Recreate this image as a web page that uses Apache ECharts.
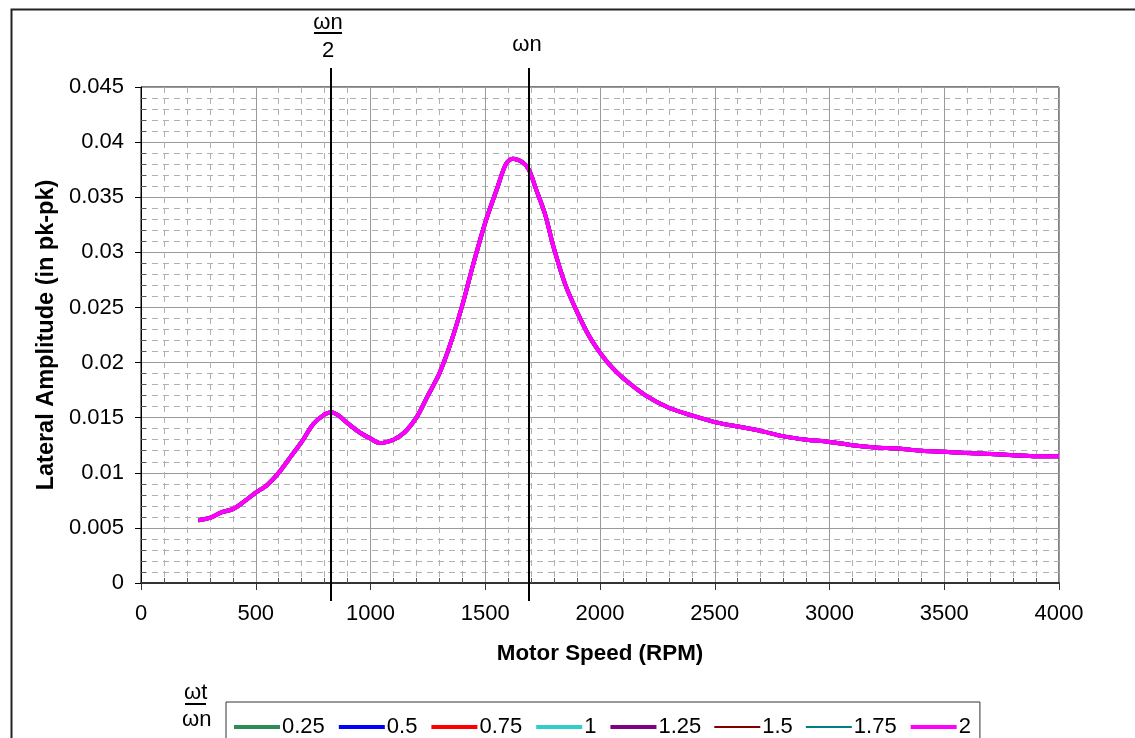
<!DOCTYPE html>
<html>
<head>
<meta charset="utf-8">
<script src="https://cdn.jsdelivr.net/npm/echarts@6/dist/echarts.min.js"></script>
<style>
html,body{margin:0;padding:0;background:#fff;}
#chart{width:1135px;height:738px;}
</style>
</head>
<body>
<div id="chart"></div>
<script>
// ---- data ----
const rpm = [250, 300, 350, 400, 450, 500, 550, 600, 650, 700, 750, 800, 830, 860, 900, 950, 1000, 1040, 1100, 1150, 1200, 1250, 1300, 1350, 1400, 1450, 1500, 1550, 1590, 1620, 1660, 1690, 1720, 1760, 1800, 1850, 1900, 1950, 2000, 2050, 2100, 2200, 2300, 2400, 2500, 2600, 2700, 2800, 2900, 3000, 3100, 3200, 3300, 3400, 3500, 3600, 3700, 3800, 3900, 4000];
const amplitude = [0.0057, 0.0059, 0.0064, 0.0067, 0.0074, 0.0082, 0.0089, 0.0100, 0.0114, 0.0128, 0.0144, 0.0153, 0.0155, 0.0152, 0.0145, 0.0137, 0.0131, 0.0127, 0.0130, 0.0137, 0.0150, 0.0170, 0.0190, 0.0218, 0.0252, 0.0291, 0.0327, 0.0357, 0.0380, 0.0385, 0.0382, 0.0375, 0.0358, 0.0335, 0.0303, 0.0270, 0.0246, 0.0225, 0.0209, 0.0196, 0.0186, 0.0170, 0.0159, 0.0152, 0.0146, 0.0142, 0.0138, 0.0133, 0.0130, 0.0128, 0.0125, 0.0123, 0.0122, 0.0120, 0.0119, 0.0118, 0.0117, 0.0116, 0.0115, 0.0115];
const ratios = ['0.25', '0.5', '0.75', '1', '1.25', '1.5', '1.75', '2'];
const markerRpm = [828, 1692];
const markerLabels = ['ωn/2', 'ωn'];
const xTicks = [0, 4000, 500];
const yTicks = [0, 0.045, 0.005];

// ---- styles ----
const colors = ['#2e8b57', '#0000ff', '#ff0000', '#33cccc', '#800080', '#800000', '#008080', '#ff00ff'];
const widths = [4, 4, 4, 4, 4, 2, 2, 4];
const FONT = '"Liberation Sans", Arial, sans-serif';

const chart = echarts.init(document.getElementById('chart'), null, {renderer: 'canvas'});

const lineSeries = ratios.map((r, i) => ({
  name: r,
  type: 'line',
  data: rpm.map((x, j) => [x, amplitude[j]]),
  smooth: 0.3,
  symbol: 'none',
  showSymbol: false,
  color: colors[i],
  lineStyle: {color: colors[i], width: widths[i]},
  z: 3 + i,
  silent: true
}));

const markerSeries = {
  type: 'custom',
  name: 'markers',
  clip: false,
  silent: true,
  z: 20,
  data: markerRpm.map((x, i) => [x, i]),
  renderItem(params, api) {
    const x = api.value(0);
    const idx = api.value(1);
    const top = api.coord([x, yTicks[1]]);
    const bot = api.coord([x, yTicks[0]]);
    const px = Math.round(top[0]);
    const children = [{
      type: 'line',
      shape: {x1: px, y1: top[1] - 19, x2: px, y2: bot[1] + 18},
      style: {stroke: '#000', lineWidth: 2}
    }];
    const lab = markerLabels[idx];
    if (lab.indexOf('/') >= 0) {
      const parts = lab.split('/');
      children.push({type: 'text', style: {text: parts[0], x: px - 3, y: top[1] - 64, align: 'center', verticalAlign: 'middle', font: '22px ' + FONT, fill: '#000'}});
      children.push({type: 'line', shape: {x1: px - 17, y1: top[1] - 54, x2: px + 11, y2: top[1] - 54}, style: {stroke: '#000', lineWidth: 2}});
      children.push({type: 'text', style: {text: parts[1], x: px - 3, y: top[1] - 36, align: 'center', verticalAlign: 'middle', font: '22px ' + FONT, fill: '#000'}});
    } else {
      children.push({type: 'text', style: {text: lab, x: px - 2, y: top[1] - 42, align: 'center', verticalAlign: 'middle', font: '22px ' + FONT, fill: '#000'}});
    }
    return {type: 'group', children};
  }
};

const option = {
  animation: false,
  backgroundColor: '#fff',
  textStyle: {fontFamily: FONT},
  grid: {left: 141, right: 76, top: 87, bottom: 155, show: true, borderColor: '#000', borderWidth: 1, backgroundColor: 'transparent'},
  xAxis: {
    type: 'value',
    min: xTicks[0], max: xTicks[1], interval: xTicks[2],
    name: 'Motor Speed (RPM)',
    nameLocation: 'middle',
    nameGap: 60,
    nameTextStyle: {fontFamily: FONT, fontSize: 22.4, fontWeight: 'bold', color: '#000'},
    axisLine: {show: true, lineStyle: {color: '#333', width: 2}},
    axisTick: {show: true, inside: false, length: 7, lineStyle: {color: '#333'}},
    minorTick: {show: true, splitNumber: 5, length: -5, lineStyle: {color: '#555'}},
    axisLabel: {fontFamily: FONT, fontSize: 22, color: '#000', margin: 20, formatter: v => String(v)},
    splitLine: {show: true, lineStyle: {color: '#9a9a9a', width: 1}},
    minorSplitLine: {show: true, lineStyle: {color: '#b0b0b0', width: 1, type: [6, 5]}}
  },
  yAxis: {
    type: 'value',
    min: yTicks[0], max: yTicks[1], interval: yTicks[2],
    name: 'Lateral Amplitude (in pk-pk)',
    nameLocation: 'middle',
    nameGap: 82,
    nameTextStyle: {fontFamily: FONT, fontSize: 23.5, fontWeight: 'bold', color: '#000'},
    axisLine: {show: true, lineStyle: {color: '#000', width: 1}},
    axisTick: {show: true, inside: false, length: 6, lineStyle: {color: '#000'}},
    minorTick: {show: true, splitNumber: 5, length: -5, lineStyle: {color: '#555'}},
    axisLabel: {fontFamily: FONT, fontSize: 22, color: '#000', margin: 17, formatter: v => String(+v.toFixed(3))},
    splitLine: {show: true, lineStyle: {color: '#9a9a9a', width: 1}},
    minorSplitLine: {show: true, lineStyle: {color: '#b0b0b0', width: 1, type: [6, 5]}}
  },
  legend: {
    data: ratios,
    left: 226,
    top: 702,
    orient: 'horizontal',
    padding: [14, 9, 40, 6],
    itemWidth: 46,
    itemHeight: 14,
    itemGap: 12,
    borderColor: '#333',
    borderWidth: 1,
    backgroundColor: '#fff',
    selectedMode: false,
    itemStyle: {color: 'transparent', borderWidth: 0, opacity: 0},
    lineStyle: {width: 'inherit'},
    textStyle: {fontFamily: FONT, fontSize: 22, color: '#000', padding: [0, 0, 0, -3]}
  },
  graphic: [
    {type: 'rect', left: 9, top: 7, shape: {width: 1140, height: 760}, style: {fill: 'none', stroke: '#222', lineWidth: 2}, silent: true, z: -10},
    {type: 'text', left: 184, top: 682, style: {text: 'ωt', font: '22px ' + FONT, fill: '#000'}},
    {type: 'rect', left: 185, top: 703, shape: {width: 21, height: 2}, style: {fill: '#000'}},
    {type: 'text', left: 182, top: 709, style: {text: 'ωn', font: '22px ' + FONT, fill: '#000'}}
  ],
  series: lineSeries.concat([markerSeries])
};
chart.setOption(option);
</script>
</body>
</html>
